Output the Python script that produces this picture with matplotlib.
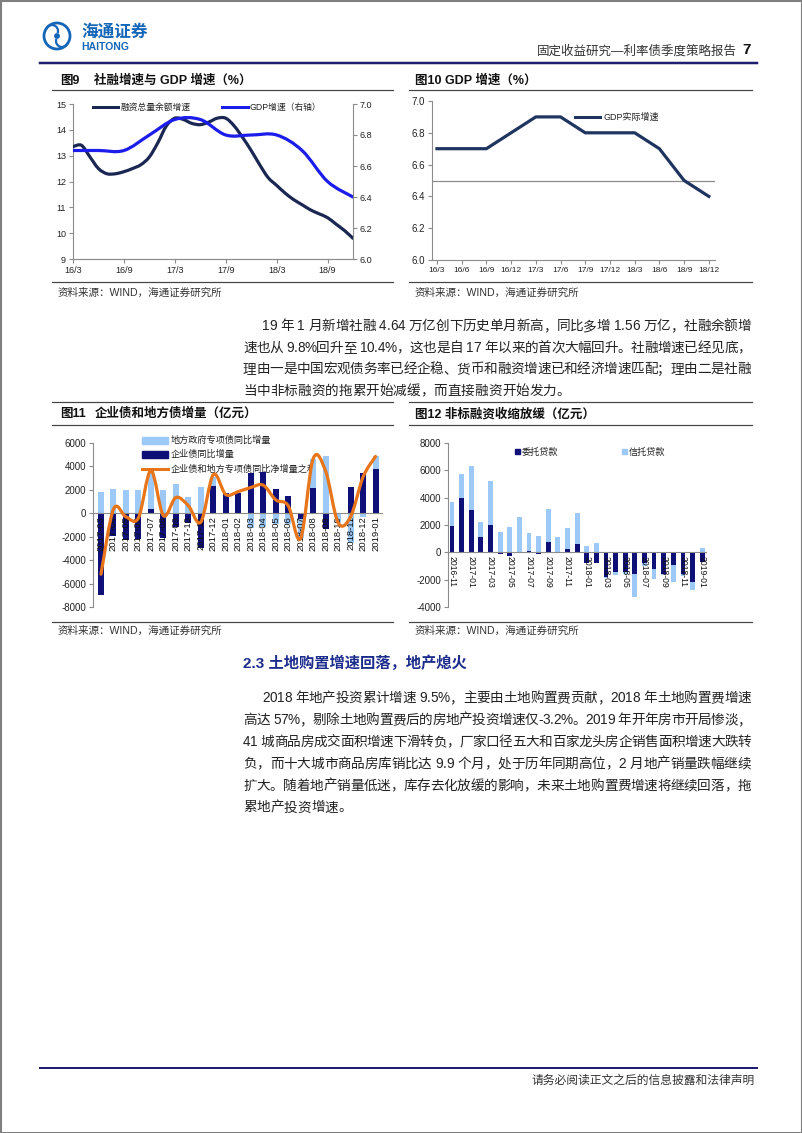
import numpy as np
import matplotlib
matplotlib.use('Agg')
import matplotlib.pyplot as plt
from matplotlib.path import Path
from matplotlib.patches import PathPatch, Rectangle, Circle, Arc
from matplotlib.lines import Line2D

plt.rcParams['font.family'] = ['Liberation Sans', 'Noto Sans CJK SC']
plt.rcParams['axes.unicode_minus'] = False

# ---- chart 9: TSF stock growth (monthly) and GDP growth (quarterly, right axis)
months9 = ['16/3', '16/9', '17/3', '17/9', '18/3', '18/9']
tsf_growth = [13.35, 13.4, 12.95, 12.5, 12.3, 12.3, 12.38, 12.5, 12.65, 12.95,
              13.5, 14.15, 14.45, 14.4, 14.25, 14.2, 14.3, 14.45, 14.45, 14.15,
              13.7, 13.2, 12.65, 12.15, 11.85, 11.55, 11.3, 11.1, 10.9, 10.75,
              10.6, 10.35, 10.1, 9.8]
gdp_growth = [6.7, 6.7, 6.7, 6.8, 6.9, 6.9, 6.8, 6.8, 6.8, 6.7, 6.5, 6.4]

# ---- chart 10: GDP real growth
quarters10 = ['16/3', '16/6', '16/9', '16/12', '17/3', '17/6', '17/9', '17/12',
              '18/3', '18/6', '18/9', '18/12']
gdp_real = [6.7, 6.7, 6.7, 6.8, 6.9, 6.9, 6.8, 6.8, 6.8, 6.7, 6.5, 6.4]
gdp_ref = 6.5

# ---- chart 11: corporate bonds and local special bonds, yoy increment
months11 = ['2017-03', '2017-04', '2017-05', '2017-06', '2017-07', '2017-08',
            '2017-09', '2017-10', '2017-11', '2017-12', '2018-01', '2018-02',
            '2018-03', '2018-04', '2018-05', '2018-06', '2018-07', '2018-08',
            '2018-09', '2018-10', '2018-11', '2018-12', '2019-01']
corp_bond = [-7000, -1900, -2250, -2200, 370, -2150, -1200, -800, -3000, 2330,
             1700, 1750, 3450, 3550, 2100, 1500, -500, 2200, -1300, -100, 2250,
             3400, 3750]
local_bond = [1800, 2050, 1950, 2000, 3200, 1950, 2500, 1350, 2250, 800, 0, 0,
              -1250, -1150, -950, -880, -1650, 2400, 4900, -700, -2500, -350, 1100]
bond_total = [-5200, 350, -300, -400, 3650, -200, 1350, 650, -750, 3300, 1600,
              1850, 2200, 2400, 1150, 650, -2150, 4650, 3600, -800, -300, 3100, 4850]

# ---- chart 12: entrusted and trust loans
months12 = ['2016-11', '2016-12', '2017-01', '2017-02', '2017-03', '2017-04',
            '2017-05', '2017-06', '2017-07', '2017-08', '2017-09', '2017-10',
            '2017-11', '2017-12', '2018-01', '2018-02', '2018-03', '2018-04',
            '2018-05', '2018-06', '2018-07', '2018-08', '2018-09', '2018-10',
            '2018-11', '2018-12', '2019-01']
entrust_loan = [1950, 4000, 3100, 1150, 2000, -100, -300, -30, 100, -100, 760, 0,
                250, 590, -750, -800, -1800, -1420, -1450, -1600, -800, -1200,
                -1550, -900, -1550, -2150, -700]
trust_loan = [1700, 1700, 3200, 1100, 3200, 1500, 1850, 2550, 1300, 1200, 2400,
              1100, 1500, 2270, 450, 650, -100, -220, -150, -1650, -200, -730,
              -100, -1300, -150, -600, 350]

para1 = ['19 年 1 月新增社融 4.64 万亿创下历史单月新高，同比多增 1.56 万亿，社融余额增',
         '速也从 9.8%回升至 10.4%，这也是自 17 年以来的首次大幅回升。社融增速已经见底，',
         '理由一是中国宏观债务率已经企稳、货币和融资增速已和经济增速匹配；理由二是社融',
         '当中非标融资的拖累开始减缓，而直接融资开始发力。']
para2 = ['2018 年地产投资累计增速 9.5%，主要由土地购置费贡献，2018 年土地购置费增速',
         '高达 57%，剔除土地购置费后的房地产投资增速仅-3.2%。2019 年开年房市开局惨淡，',
         '41 城商品房成交面积增速下滑转负，厂家口径五大和百家龙头房企销售面积增速大跌转',
         '负，而十大城市商品房库销比达 9.9 个月，处于历年同期高位，2 月地产销量跌幅继续',
         '扩大。随着地产销量低迷，库存去化放缓的影响，未来土地购置费增速将继续回落，拖',
         '累地产投资增速。']

NAVY9 = '#1B2753'
BLUE9 = '#1C1CEB'
NAVY10 = '#1F3560'
NAVYBAR = '#0F0F78'
LIGHTBAR = '#9CC9F7'
ORANGE = '#E8751A'
SPINE = '#8C8C8C'
TXT = '#222222'

W, H = 802, 1133
fig = plt.figure(figsize=(W / 100, H / 100), dpi=100)
pg = fig.add_axes([0, 0, 1, 1])
pg.set_xlim(0, W)
pg.set_ylim(H, 0)
pg.axis('off')
r = fig.canvas.get_renderer()


def box(l, t, rr, b):
    return [l / W, 1 - b / H, (rr - l) / W, (b - t) / H]


def hline(x0, x1, y, color, lw):
    pg.add_line(Line2D([x0, x1], [y, y], color=color, lw=lw * 0.72))


def smooth(ax, x, y, color, lw, zorder=3):
    # Excel-style smoothed line drawn as cubic Bezier segments through the data
    pts = np.column_stack([x, y]).astype(float)
    n = len(pts)
    verts = [pts[0]]
    codes = [Path.MOVETO]
    for i in range(n - 1):
        p0 = pts[max(i - 1, 0)]
        p1 = pts[i]
        p2 = pts[i + 1]
        p3 = pts[min(i + 2, n - 1)]
        verts += [p1 + (p2 - p0) / 6, p2 - (p3 - p1) / 6, p2]
        codes += [Path.CURVE4] * 3
    ax.add_patch(PathPatch(Path(verts, codes), fill=False, ec=color, lw=lw,
                           zorder=zorder, capstyle='round', joinstyle='round'))


def stack(ax, x, series, colors, width):
    pos = np.zeros(len(x))
    neg = np.zeros(len(x))
    for vals, c in zip(series, colors):
        vals = np.asarray(vals, float)
        bottom = np.where(vals >= 0, pos, neg)
        ax.bar(x, vals, width, bottom=bottom, color=c, zorder=2, linewidth=0)
        pos = pos + np.clip(vals, 0, None)
        neg = neg + np.clip(vals, None, 0)


def style_axis(ax, left=True, right=False, bottom=True, size=7):
    ax.set_facecolor('none')
    for s in ['top', 'left', 'right', 'bottom']:
        ax.spines[s].set_color(SPINE)
        ax.spines[s].set_linewidth(0.8)
    ax.spines['top'].set_visible(False)
    ax.spines['left'].set_visible(left)
    ax.spines['right'].set_visible(right)
    ax.spines['bottom'].set_visible(bottom)
    ax.tick_params(length=3, width=0.8, color=SPINE, labelsize=size, pad=2,
                   labelcolor=TXT)


_adv = {}


def advance(ch, size):
    key = (ch, size)
    if key not in _adv:
        t1 = pg.text(0, 0, '|' + ch + '|', fontsize=size)
        t0 = pg.text(0, 0, '||', fontsize=size)
        _adv[key] = t1.get_window_extent(r).width - t0.get_window_extent(r).width
        t1.remove()
        t0.remove()
    return _adv[key]


def justify(x0, x1, y, s, size, full=True):
    widths = [advance(ch, size) for ch in s]
    gap = (x1 - x0 - sum(widths)) / (len(s) - 1) if full else 0
    x = x0
    for ch, w in zip(s, widths):
        if ch != ' ':
            pg.text(x, y, ch, fontsize=size, color=TXT, va='baseline', ha='left')
        x += w + gap


# ---------------- page frame and header ----------------
pg.add_patch(Rectangle((0.5, 0.5), W - 1, H - 1, fill=False, ec='#7F7F7F', lw=1.5))
pg.add_patch(Circle((57, 36), 13, fill=False, ec='#1466B8', lw=2.0))
pg.add_patch(Arc((52, 31), 12, 12, theta1=200, theta2=20, ec='#1466B8', lw=1.6))
pg.add_patch(Arc((62, 41), 12, 12, theta1=20, theta2=200, ec='#1466B8', lw=1.6))
pg.add_patch(Circle((57, 36), 2.2, color='#1466B8'))
pg.text(81, 32, '海通证券', fontsize=12, color='#1466B8', fontweight='bold',
        va='center', ha='left', style='italic')
pg.text(81, 47, 'HAITONG', fontsize=7.5, color='#1466B8', fontweight='bold',
        va='center', ha='left')
pg.text(737, 51, '固定收益研究—利率债季度策略报告', fontsize=9, color='#333333',
        va='center', ha='right')
pg.text(742, 50, '7', fontsize=11, color='#111111', fontweight='bold',
        va='center', ha='left')
hline(40, 757, 62.5, '#1F1F6E', 2.5)

# section rules and titles
for x0, x1 in [(52, 393), (409, 752)]:
    hline(x0, x1, 90, '#444444', 1.2)
    hline(x0, x1, 282, '#444444', 1.2)
    hline(x0, x1, 402, '#444444', 1.2)
    hline(x0, x1, 425, '#444444', 1.2)
    hline(x0, x1, 622, '#444444', 1.2)

tkw = dict(fontsize=9, fontweight='bold', color='#111111', va='center', ha='left')
pg.text(60, 81, '图9', **tkw)
pg.text(94, 81, '社融增速与 GDP 增速（%）', **tkw)
pg.text(415, 81, '图10 GDP 增速（%）', **tkw)
pg.text(60, 414, '图11', **tkw)
pg.text(95, 414, '企业债和地方债增量（亿元）', **tkw)
pg.text(415, 414, '图12 非标融资收缩放缓（亿元）', **tkw)

skw = dict(fontsize=7.6, color='#333333', va='center', ha='left')
pg.text(58, 293, '资料来源：WIND，海通证券研究所', **skw)
pg.text(415, 293, '资料来源：WIND，海通证券研究所', **skw)
pg.text(58, 631, '资料来源：WIND，海通证券研究所', **skw)
pg.text(415, 631, '资料来源：WIND，海通证券研究所', **skw)

# ---------------- chart 9 ----------------
ax9 = fig.add_axes(box(73, 104, 353, 259))
style_axis(ax9, size=6.5)
x9 = np.arange(len(tsf_growth))
ax9.set_xlim(0, 33)
ax9.set_ylim(9, 15)
ax9.set_yticks(np.arange(9, 15.1, 1))
ax9.set_xticks(np.arange(0, 31, 6))
ax9.set_xticklabels(months9)
smooth(ax9, x9, tsf_growth, NAVY9, 2.3)
ax9b = ax9.twinx()
style_axis(ax9b, left=False, right=True, size=6.5)
ax9b.set_ylim(6.0, 7.0)
ax9b.set_yticks(np.arange(6.0, 7.01, 0.2))
ax9b.set_yticklabels(['%.1f' % v for v in np.arange(6.0, 7.01, 0.2)])
smooth(ax9b, np.arange(len(gdp_growth)) * 3, gdp_growth, BLUE9, 2.3)

hline(93, 118, 107, NAVY9, 3)
pg.text(121, 107, '融资总量余额增速', fontsize=6.3, color=TXT, va='center')
hline(222, 248, 107, BLUE9, 3)
pg.text(250, 107, 'GDP增速（右轴）', fontsize=6.3, color=TXT, va='center')

# ---------------- chart 10 ----------------
ax10 = fig.add_axes(box(432, 101, 715, 260))
style_axis(ax10, size=7)
x10 = np.arange(len(gdp_real))
ax10.set_xlim(-0.2, 11.25)
ax10.set_ylim(6.0, 7.0)
ax10.set_yticks(np.arange(6.0, 7.01, 0.2))
ax10.set_yticklabels(['%.1f' % v for v in np.arange(6.0, 7.01, 0.2)])
ax10.set_xticks(x10)
ax10.set_xticklabels(quarters10, fontsize=6)
ax10.axhline(gdp_ref, color='#8C8C8C', lw=0.9, zorder=1)
ax10.plot(x10, gdp_real, color=NAVY10, lw=2.3, zorder=3, solid_joinstyle='round')

hline(575, 600, 117, NAVY10, 3)
pg.text(603, 117, 'GDP实际增速', fontsize=6.5, color=TXT, va='center')

# ---------------- chart 11 ----------------
ax11 = fig.add_axes(box(93, 443, 383, 607))
style_axis(ax11, bottom=False, size=7)
x11 = np.arange(len(months11))
ax11.set_xlim(-0.64, 22.6)
ax11.set_ylim(-8000, 6000)
ax11.set_yticks(np.arange(-8000, 6001, 2000))
ax11.set_xticks([])
stack(ax11, x11, [corp_bond, local_bond], [NAVYBAR, LIGHTBAR], 0.48)
ax11.axhline(0, color='#8C8C8C', lw=0.8, zorder=3)
for i, lab in enumerate(months11):
    ax11.annotate(lab, (i, 0), xytext=(0, -2), textcoords='offset points',
                  rotation=90, ha='center', va='top', fontsize=6.8, color='#111111',
                  zorder=4)
smooth(ax11, x11, bond_total, ORANGE, 2.3, zorder=5)

pg.add_patch(Rectangle((142, 437), 26, 6.5, color=LIGHTBAR))
pg.text(171, 440.5, '地方政府专项债同比增量', fontsize=6.6, color=TXT, va='center')
pg.add_patch(Rectangle((142, 451), 26, 6.5, color=NAVYBAR))
pg.text(171, 454.5, '企业债同比增量', fontsize=6.6, color=TXT, va='center')
hline(142, 168, 469, ORANGE, 3)
pg.text(171, 469, '企业债和地方专项债同比净增量之和', fontsize=6.6, color=TXT, va='center')

# ---------------- chart 12 ----------------
ax12 = fig.add_axes(box(448, 443, 707, 607))
style_axis(ax12, bottom=False, size=7)
x12 = np.arange(len(months12))
ax12.set_xlim(-0.42, 26.5)
ax12.set_ylim(-4000, 8000)
ax12.set_yticks(np.arange(-4000, 8001, 2000))
ax12.set_xticks([])
stack(ax12, x12, [entrust_loan, trust_loan], [NAVYBAR, LIGHTBAR], 0.5)
ax12.axhline(0, color='#8C8C8C', lw=0.8, zorder=3)
for i, lab in enumerate(months12):
    if i % 2 == 0:
        ax12.annotate(lab, (i, 0), xytext=(0, -3), textcoords='offset points',
                      rotation=270, ha='center', va='top', fontsize=6.2,
                      color='#111111', zorder=4)

pg.add_patch(Rectangle((515, 449), 5, 5, color=NAVYBAR))
pg.text(522, 452, '委托贷款', fontsize=6.6, color=TXT, va='center')
pg.add_patch(Rectangle((622, 449), 5, 5, color=LIGHTBAR))
pg.text(629, 452, '信托贷款', fontsize=6.6, color=TXT, va='center')

# ---------------- body text ----------------
BODY = 9.8
y = 330
for k, line in enumerate(para1):
    x0 = 262 if k == 0 else 243
    justify(x0, 751, y, line, BODY, full=(k < len(para1) - 1))
    y += 21.6

pg.text(243, 663, '2.3 土地购置增速回落，地产熄火', fontsize=11, fontweight='bold',
        color='#1C2C8C', va='center', ha='left')

y = 702
for k, line in enumerate(para2):
    x0 = 262 if k == 0 else 243
    justify(x0, 751, y, line, BODY, full=(k < len(para2) - 1))
    y += 21.9

# ---------------- footer ----------------
hline(40, 757, 1068, '#1F1F6E', 2)
pg.text(755, 1081, '请务必阅读正文之后的信息披露和法律声明', fontsize=8.5,
        color='#333333', va='center', ha='right')

fig.savefig('out.png', dpi=100)
